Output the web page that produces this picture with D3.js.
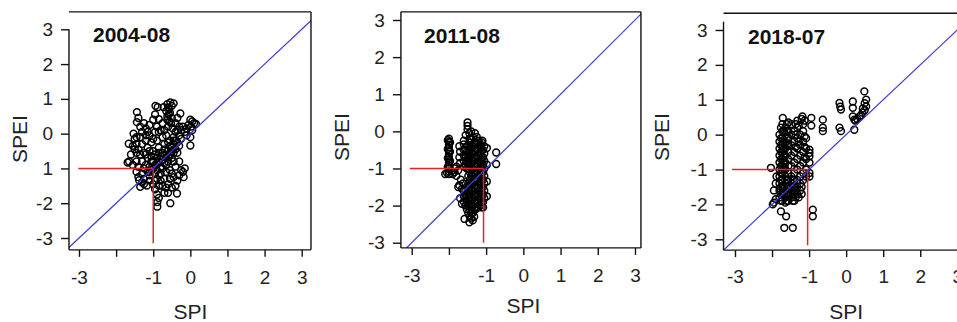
<!DOCTYPE html>
<html><head><meta charset="utf-8">
<script src="https://cdn.jsdelivr.net/npm/d3@7/dist/d3.min.js"></script>
<style>
body{margin:0;background:#fff;}
svg{display:block;}
text{font-family:"Liberation Sans",Arial,sans-serif;}
</style>
</head><body>
<svg id="chart" width="957" height="322"></svg>
<script>
// ---------------- data ----------------
const panelTitles = ["2004-08", "2011-08", "2018-07"];
const xAxisTitle = "SPI";
const yAxisTitle = "SPEI";
const xTicks = [-3, -2, -1, 0, 1, 2, 3];
const yTicks = [-3, -2, -1, 0, 1, 2, 3];
const xTickLabels = ["-3", "", "-1", "0", "1", "2", "3"];
const yTickLabelsA = ["-3", "-2", "1", "0", "1", "2", "3"];
const yTickLabelsB = ["-3", "-2", "-1", "0", "1", "2", "3"];
const thresholdSPI = [-1, -1.07, -1.04];
const thresholdSPEI = [-1, -1, -1];
const redStartSPI = [-3.02, -3.05, -3.08];
const redEndSPEI = [-3.15, -3.0, -3.17];

const points2004 = [
 [-1.44,0.62],[-1.44,0.33],[-1.40,0.45],[-0.94,0.80],[-0.88,0.76],[-0.72,0.76],[-0.54,0.90],[-0.45,0.87],
 [-0.50,0.80],[-0.58,0.70],[-0.55,0.60],[-0.62,0.50],[-0.50,0.45],[-0.56,0.35],[-0.27,0.58],[-0.35,0.45],
 [-0.40,0.30],[-0.95,0.55],[-1.00,0.40],[-0.85,0.42],[-1.10,0.25],[-1.20,0.15],[-0.75,0.30],[-0.60,0.20],
 [0.00,0.40],[0.05,0.35],[0.10,0.30],[0.15,0.28],[0.02,0.20],[-0.05,0.25],[-0.10,0.15],[0.05,0.10],
 [-0.15,0.05],[-0.20,0.20],[-0.25,0.10],[0.00,-0.10],[0.00,-0.34],[-0.10,-0.05],[-0.30,-0.05],[-0.30,-0.35],
 [-1.66,-0.29],[-1.69,-0.83],[-1.65,-0.80],[-1.53,0.00],[-1.50,-0.15],[-1.45,-0.30],[-1.40,-0.45],[-1.35,-0.10],
 [-1.30,0.05],[-1.30,-0.30],[-1.25,-0.55],[-1.20,-0.20],[-1.15,-0.40],[-1.10,-0.05],[-1.05,-0.25],[-1.00,-0.50],
 [-0.95,0.05],[-0.90,-0.20],[-0.85,-0.40],[-0.80,0.10],[-0.75,-0.10],[-0.70,-0.30],[-0.65,-0.05],[-0.60,-0.50],
 [-0.55,-0.20],[-0.50,-0.40],[-0.45,-0.10],
 [-1.45,-0.80],[-1.40,-0.95],[-1.30,-0.80],[-1.25,-1.00],[-1.20,-0.90],[-1.15,-1.10],[-1.10,-0.95],[-1.05,-0.80],
 [-1.00,-1.00],[-0.95,-0.90],[-0.90,-1.05],[-0.85,-0.80],[-0.80,-0.95],[-0.80,-0.65],[-0.75,-0.75],[-0.70,-0.60],
 [-0.65,-0.70],[-0.60,-0.80],[-0.55,-0.60],[-0.50,-0.50],[-0.45,-0.30],[-0.40,-0.20],[-0.35,-0.25],[-0.90,-0.70],
 [-0.95,-0.60],[-1.05,-0.65],[-1.15,-0.70],[-0.85,-1.20],[-0.90,-1.30],[-0.80,-1.15],
 [-1.38,-1.34],[-1.35,-1.53],[-1.17,-1.49],[-1.25,-1.30],[-1.10,-1.35],[-1.00,-1.45],[-0.95,-1.60],[-0.90,-1.75],
 [-0.89,-1.97],[-0.89,-2.10],[-0.85,-1.85],[-0.54,-2.00],[-0.36,-1.72],[-0.40,-1.50],[-0.50,-1.55],[-0.60,-1.45],
 [-0.55,-1.30],[-0.45,-1.25],[-0.35,-1.35],[-0.30,-1.20],[-0.20,-1.10],[-0.15,-1.00],[-0.18,-1.25],[-0.25,-1.05],
 [-0.70,-1.30],[-0.65,-1.10],[-0.75,-1.50],[-0.70,-1.70],[-0.60,-1.70],[-0.50,-1.15],[-0.40,-0.95],[-0.30,-0.80],
 [-0.75,-1.00],[-0.65,-0.90],[-1.55,-0.90],[-1.60,-0.60],[-1.30,-1.15],[-1.25,-1.45],[-1.10,-1.20],
 [-0.62,0.85],[-0.60,0.75],[-0.65,0.65],[-0.58,0.55],[-0.62,0.40],[-0.52,0.30],[-0.48,0.15],[-0.40,0.05],
 [-0.35,0.10],[-0.30,0.20],[-0.25,-0.15],[-0.45,-0.20],[-0.55,-0.35],[-0.60,-0.25],[-0.70,-0.45],[-0.75,-0.55],
 [-0.85,-0.55],[-0.90,-0.85],[-1.00,-0.80],[-1.05,-1.05],[-1.10,-1.10],[-0.95,-1.15],[-0.70,-0.85],[-0.60,-0.65],
 [-0.50,-0.70],[-0.45,-0.55],[-0.40,-0.45],[-0.35,-0.55],[-1.20,-0.05],[-1.25,0.30],[-1.35,0.20],[-1.15,0.05],
 [-0.90,0.20],[-0.85,0.05],[-0.70,0.10],[-1.00,-0.15],[-1.10,-0.50],[-1.20,-0.60],[-1.35,-0.60],[-1.45,-0.55],
 [-1.50,-0.45],[-1.55,-0.35],[-1.45,-0.10],[-0.80,-1.35],[-0.85,-1.50],[-0.65,-1.55],[-0.55,-1.05],[-0.45,-0.80],
 [-0.95,-1.35],[-1.30,-1.40],[-1.45,-1.10],[-1.40,-1.25]
];

const points2011 = [
 [-2.00,-0.20],[-2.00,-0.28],[-2.00,-0.36],[-2.00,-0.44],[-2.00,-0.52],[-2.00,-0.60],[-2.00,-0.68],[-2.00,-0.76],
 [-2.00,-0.84],[-2.00,-0.92],[-2.00,-1.00],[-2.00,-1.08],[-2.00,-1.15],[-1.97,-0.30],[-1.97,-0.55],[-1.97,-0.80],
 [-2.03,-0.24],[-2.03,-0.48],[-2.03,-0.72],[-2.03,-0.96],
 [-2.05,-1.12],[-2.10,-1.15],[-1.90,-1.15],[-1.85,-1.10],[-1.80,-1.20],[-1.75,-1.05],[-1.85,-1.00],[-1.80,-0.95],
 [-1.72,-0.40],[-1.70,-0.55],[-1.72,-0.70],[-1.70,-0.85],[-1.68,-1.30],[-1.72,-1.45],[-1.65,-1.55],[-1.75,-1.50],[-1.62,-1.40],
 [-1.50,0.24],[-1.50,0.15],[-1.50,0.05],[-1.45,-0.05],[-1.55,-0.10],[-1.40,0.00],[-1.35,-0.15],[-1.25,-0.15],
 [-1.30,-0.05],[-1.45,-0.20],[-1.60,-0.25],[-1.20,-0.25],[-1.10,-0.25],[-1.15,-0.35],[-1.05,-0.40],
 [-1.60,-0.35],[-1.60,-0.50],[-1.60,-0.65],[-1.60,-0.80],[-1.60,-0.95],[-1.60,-1.60],[-1.60,-1.75],[-1.60,-1.90],
 [-1.52,-0.40],[-1.52,-0.60],[-1.52,-0.80],[-1.52,-1.00],[-1.52,-1.50],[-1.52,-1.70],[-1.52,-1.90],[-1.52,-2.10],
 [-1.44,-0.30],[-1.44,-0.50],[-1.44,-0.70],[-1.44,-0.90],[-1.44,-1.10],[-1.44,-1.30],[-1.44,-1.50],[-1.44,-1.70],
 [-1.44,-1.90],[-1.44,-2.10],[-1.44,-2.30],
 [-1.36,-0.40],[-1.36,-0.60],[-1.36,-0.80],[-1.36,-1.00],[-1.36,-1.20],[-1.36,-1.40],[-1.36,-1.60],[-1.36,-1.80],
 [-1.36,-2.00],[-1.36,-2.20],[-1.36,-2.40],
 [-1.28,-0.35],[-1.28,-0.55],[-1.28,-0.75],[-1.28,-0.95],[-1.28,-1.15],[-1.28,-1.35],[-1.28,-1.55],[-1.28,-1.75],
 [-1.28,-1.95],[-1.28,-2.10],
 [-1.20,-0.45],[-1.20,-0.65],[-1.20,-0.85],[-1.20,-1.05],[-1.20,-1.25],[-1.20,-1.45],[-1.20,-1.65],[-1.20,-1.85],[-1.20,-2.05],
 [-1.12,-0.30],[-1.12,-0.50],[-1.12,-0.70],[-1.12,-0.90],[-1.12,-1.10],[-1.12,-1.30],[-1.12,-1.50],[-1.12,-1.70],
 [-1.12,-1.90],[-1.12,-2.05],
 [-1.05,-0.60],[-1.05,-0.80],[-1.05,-1.00],[-1.05,-1.20],[-1.05,-1.40],[-1.05,-1.60],[-1.05,-1.80],
 [-0.98,-0.45],[-0.98,-0.90],[-0.98,-1.35],[-0.98,-1.75],
 [-0.73,-0.57],[-0.73,-0.88],[-1.58,-2.36],[-1.45,-2.45],[-1.70,-1.80],[-1.65,-1.95],
 [-1.56,-0.50],[-1.56,-0.70],[-1.56,-0.90],[-1.56,-1.60],[-1.56,-1.80],[-1.56,-2.00],
 [-1.48,-0.40],[-1.48,-0.60],[-1.48,-0.80],[-1.48,-1.00],[-1.48,-1.20],[-1.48,-1.40],[-1.48,-1.60],[-1.48,-1.80],
 [-1.48,-2.00],[-1.48,-2.20],
 [-1.40,-0.20],[-1.40,-0.40],[-1.40,-0.60],[-1.40,-0.80],[-1.40,-1.00],[-1.40,-1.20],[-1.40,-1.40],[-1.40,-1.60],
 [-1.40,-1.80],[-1.40,-2.00],[-1.40,-2.20],[-1.40,-2.35],
 [-1.32,-0.30],[-1.32,-0.50],[-1.32,-0.70],[-1.32,-0.90],[-1.32,-1.10],[-1.32,-1.30],[-1.32,-1.50],[-1.32,-1.70],
 [-1.32,-1.90],[-1.32,-2.10],[-1.32,-2.30],
 [-1.24,-0.30],[-1.24,-0.50],[-1.24,-0.70],[-1.24,-0.90],[-1.24,-1.10],[-1.24,-1.30],[-1.24,-1.50],[-1.24,-1.70],
 [-1.24,-1.90],[-1.24,-2.05],
 [-1.16,-0.40],[-1.16,-0.60],[-1.16,-0.80],[-1.16,-1.00],[-1.16,-1.20],[-1.16,-1.40],[-1.16,-1.60],[-1.16,-1.80],[-1.16,-2.00],
 [-1.08,-0.50],[-1.08,-0.70],[-1.08,-0.90],[-1.08,-1.10],[-1.08,-1.30],[-1.08,-1.50],[-1.08,-1.70],[-1.08,-1.90],[-1.08,-2.05]
];

const points2018 = [
 [-0.18,0.91],[-0.14,0.72],[-0.16,0.80],[0.18,0.95],[0.18,0.77],[0.49,1.24],[0.54,1.00],[0.54,0.81],
 [0.50,0.90],[0.44,0.63],[0.36,0.52],[0.30,0.45],[0.40,0.55],[0.18,0.52],[0.22,0.43],[0.25,0.40],
 [0.22,0.14],[-0.18,0.20],[-0.14,0.10],[0.50,0.70],[0.45,0.75],
 [-0.63,0.43],[-0.63,0.20],[-0.63,0.10],[-0.94,0.48],[-0.94,0.26],[-1.18,0.52],[-1.71,0.48],
 [-1.76,-2.20],[-1.62,-2.34],[-1.67,-2.67],[-1.44,-2.67],[-0.90,-2.15],[-0.90,-2.34],
 [-1.98,-2.00],[-1.95,-1.95],[-1.90,-1.85],[-2.03,-0.95],[-1.95,-1.60],[-1.90,-1.40],[-1.88,-1.20],
 [-1.80,0.00],[-1.80,-0.20],[-1.80,-0.40],[-1.80,-0.60],[-1.80,-0.80],[-1.80,-1.00],[-1.80,-1.20],[-1.80,-1.40],
 [-1.80,-1.60],[-1.80,-1.80],
 [-1.72,0.30],[-1.72,0.10],[-1.72,-0.10],[-1.72,-0.30],[-1.72,-0.50],[-1.72,-0.70],[-1.72,-0.90],[-1.72,-1.10],
 [-1.72,-1.30],[-1.72,-1.50],[-1.72,-1.70],[-1.72,-1.90],
 [-1.64,0.20],[-1.64,0.00],[-1.64,-0.20],[-1.64,-0.40],[-1.64,-0.60],[-1.64,-0.80],[-1.64,-1.00],[-1.64,-1.20],
 [-1.64,-1.40],[-1.64,-1.60],[-1.64,-1.80],[-1.64,-1.95],
 [-1.56,0.35],[-1.56,0.10],[-1.56,-0.10],[-1.56,-0.30],[-1.56,-0.50],[-1.56,-0.70],[-1.56,-0.90],[-1.56,-1.10],
 [-1.56,-1.30],[-1.56,-1.50],[-1.56,-1.70],[-1.56,-1.90],
 [-1.48,0.30],[-1.48,0.00],[-1.48,-0.30],[-1.48,-0.60],[-1.48,-0.90],[-1.48,-1.20],[-1.48,-1.40],[-1.48,-1.60],[-1.48,-1.80],
 [-1.40,0.10],[-1.40,-0.20],[-1.40,-0.50],[-1.40,-0.80],[-1.40,-1.10],[-1.40,-1.30],[-1.40,-1.50],[-1.40,-1.70],[-1.40,-1.90],
 [-1.32,0.40],[-1.32,0.20],[-1.32,-0.10],[-1.32,-0.40],[-1.32,-0.70],[-1.32,-1.00],[-1.32,-1.30],[-1.32,-1.50],[-1.32,-1.70],
 [-1.24,0.00],[-1.24,-0.30],[-1.24,-0.60],[-1.24,-0.90],[-1.24,-1.20],[-1.24,-1.40],[-1.24,-1.60],
 [-1.16,0.30],[-1.16,0.10],[-1.16,-0.20],[-1.16,-0.50],[-1.16,-0.80],[-1.16,-1.10],[-1.16,-1.30],
 [-1.08,-0.10],[-1.08,-0.40],[-1.08,-0.70],[-1.08,-1.00],[-1.08,-1.20],
 [-0.99,-0.43],[-0.99,-0.52],[-0.99,-0.62],[-0.99,-0.80],[-0.99,-1.10],[-0.99,-1.20],
 [-1.76,0.20],[-1.76,-0.10],[-1.76,-0.30],[-1.76,-0.50],[-1.76,-0.70],[-1.76,-0.90],[-1.76,-1.10],[-1.76,-1.30],
 [-1.76,-1.50],[-1.76,-1.70],[-1.76,-1.90],
 [-1.68,0.10],[-1.68,-0.20],[-1.68,-0.40],[-1.68,-0.60],[-1.68,-0.80],[-1.68,-1.00],[-1.68,-1.50],[-1.68,-1.70],
 [-1.60,0.30],[-1.60,0.10],[-1.60,-0.10],[-1.60,-0.30],[-1.60,-1.30],[-1.60,-1.50],[-1.60,-1.70],[-1.60,-1.90],
 [-1.44,-1.30],[-1.44,-1.50],[-1.44,-1.70],[-1.44,-1.90],
 [-1.36,0.30],[-1.36,0.00],[-1.36,-0.35],[-1.36,-1.60],[-1.36,-1.80],
 [-1.28,0.25],[-1.28,-0.20],[-1.28,-1.80],[-1.20,0.45],[-1.20,-1.50],[-1.20,-1.70],
 [-1.12,0.40],[-1.12,-0.05],[-1.12,-0.35],[-1.12,-0.65]
];
const panelPoints = [points2004, points2011, points2018];
const panelYTickLabels = [yTickLabelsA, yTickLabelsB, yTickLabelsB];

// ---------------- layout ----------------
const layouts = [
  {xr:[79,301.7], yr:[238,29.3], xlim:[-3.27,3.25], ylim:[-3.34,3.5], leftTop:29.3, fullBox:false,
   xPad:14, titleX:93, titleY:42, yTitleX:19, yTitleY:139, xTitleY:311},
  {xr:[411.7,635], yr:[242.7,20], xlim:[-3.29,3.16], ylim:[-3.14,3.22], leftTop:null, fullBox:true,
   xPad:14, titleX:424, titleY:43, yTitleX:341, yTitleY:137, xTitleY:305},
  {xr:[735,957.3], yr:[239.3,30], xlim:[-3.31,3.3], ylim:[-3.31,3.48], leftTop:21.7, fullBox:false,
   xPad:12, titleX:748, titleY:44, yTitleX:661, yTitleY:137, xTitleY:311}
];

const svg = d3.select("#chart");
const defs = svg.append("defs");

layouts.forEach((L, i) => {
  const x = d3.scaleLinear().domain([-3, 3]).range(L.xr);
  const y = d3.scaleLinear().domain([-3, 3]).range(L.yr);
  const left = x(L.xlim[0]), right = x(L.xlim[1]);
  const top = y(L.ylim[1]), bottom = y(L.ylim[0]);
  const g = svg.append("g");

  defs.append("clipPath").attr("id", "clip" + i)
    .append("rect").attr("x", left).attr("y", top)
    .attr("width", right - left).attr("height", bottom - top);

  const plot = g.append("g").attr("clip-path", `url(#clip${i})`);

  // points
  plot.selectAll("circle").data(panelPoints[i]).join("circle")
    .attr("cx", d => x(d[0])).attr("cy", d => y(d[1]))
    .attr("r", 3.4).attr("fill", "none").attr("stroke", "#000").attr("stroke-width", 1.5);

  // red threshold lines
  plot.append("line")
    .attr("x1", x(redStartSPI[i])).attr("y1", y(thresholdSPEI[i]))
    .attr("x2", x(thresholdSPI[i])).attr("y2", y(thresholdSPEI[i]))
    .attr("stroke", "#e8202a").attr("stroke-width", 1.5);
  plot.append("line")
    .attr("x1", x(thresholdSPI[i])).attr("y1", y(thresholdSPEI[i]))
    .attr("x2", x(thresholdSPI[i])).attr("y2", y(redEndSPEI[i]))
    .attr("stroke", "#e8202a").attr("stroke-width", 1.5);

  // 1:1 line
  plot.append("line")
    .attr("x1", x(-4)).attr("y1", y(-4)).attr("x2", x(4)).attr("y2", y(4))
    .attr("stroke", "#3a3ad6").attr("stroke-width", 1.2);

  // frame
  const fr = g.append("g").attr("stroke", "#111").attr("stroke-width", 1.4).attr("fill", "none");
  fr.append("line").attr("x1", left).attr("x2", right).attr("y1", top).attr("y2", top);
  fr.append("line").attr("x1", right).attr("x2", right).attr("y1", top).attr("y2", bottom);
  fr.append("line").attr("x1", left).attr("x2", right).attr("y1", bottom).attr("y2", bottom);
  fr.append("line").attr("x1", left).attr("x2", left)
    .attr("y1", L.fullBox ? top : L.leftTop).attr("y2", bottom);

  // axes
  const xAxis = d3.axisBottom(x).tickValues(xTicks)
    .tickFormat((d, k) => xTickLabels[k]).tickSize(7).tickPadding(L.xPad);
  const gx = g.append("g").attr("transform", `translate(0,${bottom})`).call(xAxis);
  const yAxis = d3.axisLeft(y).tickValues(yTicks)
    .tickFormat((d, k) => panelYTickLabels[i][k]).tickSize(8).tickPadding(8);
  const gy = g.append("g").attr("transform", `translate(${left},0)`).call(yAxis);
  [gx, gy].forEach(a => {
    a.select(".domain").remove();
    a.selectAll(".tick line").attr("stroke", "#111").attr("stroke-width", 1.4);
    a.selectAll(".tick text").attr("fill", "#222").style("font-size", "19px")
      .style("font-family", '"Liberation Sans", Arial, sans-serif');
  });

  // titles
  g.append("text").attr("x", L.titleX).attr("y", L.titleY)
    .attr("font-size", 21).attr("font-weight", "bold").attr("fill", "#111")
    .text(panelTitles[i]);
  g.append("text").attr("x", (L.xr[0] + L.xr[1]) / 2).attr("y", L.xTitleY)
    .attr("text-anchor", "middle").attr("dominant-baseline", "central")
    .attr("font-size", 21).attr("fill", "#222").text(xAxisTitle);
  g.append("text")
    .attr("transform", `translate(${L.yTitleX},${L.yTitleY}) rotate(-90)`)
    .attr("text-anchor", "middle").attr("dominant-baseline", "central")
    .attr("font-size", 21).attr("fill", "#222").text(yAxisTitle);
});
</script>
</body></html>
